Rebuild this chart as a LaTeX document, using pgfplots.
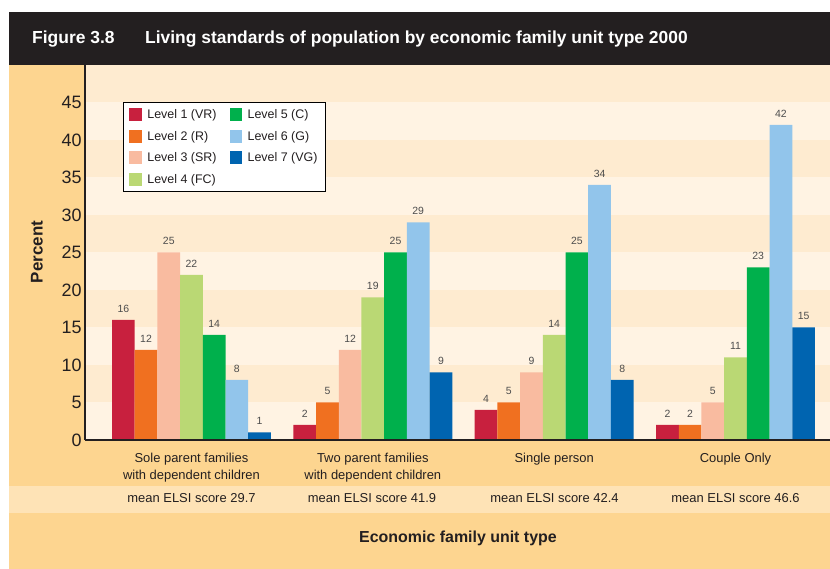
\documentclass[border=0pt]{standalone}
\usepackage{pgfplots}
\pgfplotsset{compat=1.18}
\usepackage{fontspec}
\setmainfont{Liberation Sans}
\definecolor{hdr}{HTML}{231F20}
\definecolor{org}{HTML}{FDD590}
\definecolor{stripe}{HTML}{FEE3B6}
\definecolor{bandA}{HTML}{FFF3E3}
\definecolor{bandB}{HTML}{FEEBD0}
\definecolor{txt}{HTML}{231F20}
\definecolor{lbl}{HTML}{4D4D4D}
\definecolor{cA}{HTML}{C8203E}
\definecolor{cB}{HTML}{F07020}
\definecolor{cC}{HTML}{F9BBA0}
\definecolor{cD}{HTML}{BAD874}
\definecolor{cE}{HTML}{00B04C}
\definecolor{cF}{HTML}{92C5EB}
\definecolor{cG}{HTML}{0064B0}
\begin{document}
\begin{tikzpicture}[x=1bp,y=1bp]
\useasboundingbox (0,0) rectangle (830,569);
\fill[white] (0,0) rectangle (830,569);
\fill[org] (9,0) rectangle (830,504);
\fill[hdr] (9,504) rectangle (830,557);
\fill[stripe] (9,56) rectangle (830,83);
\foreach \k in {0,2,4,6,8} {\fill[bandA] (85,{129+37.5*\k}) rectangle (830,{129+37.5*\k+37.5});}
\foreach \k in {1,3,5,7,9} {\fill[bandB] (85,{129+37.5*\k}) rectangle (830,{129+37.5*\k+37.5});}
\node[anchor=base west, text=white, font=\bfseries\fontsize{17.5}{18}\selectfont, inner sep=0] at (32,525) {Figure 3.8};
\node[anchor=base west, text=white, font=\bfseries\fontsize{17.5}{18}\selectfont, inner sep=0] at (145,525) {Living standards of population by economic family unit type 2000};
\node[rotate=90, text=txt, font=\bfseries\fontsize{17}{17}\selectfont] at (37,317) {Percent};
\node[text=txt, font=\bfseries\fontsize{16}{17}\selectfont] at (458,31) {Economic family unit type};
\begin{scope}[every node/.style={text=txt, font=\fontsize{13}{15}\selectfont}]
\node at (191.5,71) {mean ELSI score 29.7};
\node at (372,71) {mean ELSI score 41.9};
\node at (554.5,71) {mean ELSI score 42.4};
\node at (735.5,71) {mean ELSI score 46.6};
\end{scope}
\begin{axis}[
  at={(85bp,129bp)}, anchor=south west, scale only axis,
  width=745bp, height=375bp,
  xmin=-0.587, xmax=3.521, ymin=0, ymax=50,
  axis x line*=bottom, axis y line*=left,
  axis line style={draw=txt, line width=1.2bp, -},
  axis on top, clip=false,
  major tick length=0pt,
  xtick={0,1,2,3},
  xticklabels={{Sole parent families\\with dependent children},{Two parent families\\with dependent children},{Single person},{Couple Only}},
  xticklabel style={font=\fontsize{13}{16.5}\selectfont, text=txt, align=center, yshift=-10bp},
  ytick={0,5,...,45},
  yticklabel style={font=\fontsize{18}{18}\selectfont, text=txt},
  /pgf/number format/assume math mode=true,
  ybar=0pt, bar width=22.7bp,
  nodes near coords,
  every node near coord/.append style={font=\fontsize{10.5}{11}\selectfont, text=lbl, yshift=4bp},
  legend image code/.code={\fill[#1] (0bp,-6.3bp) rectangle (12.5bp,6.3bp);},
  legend columns=2, legend cell align=left,
  legend style={at={(rel axis cs:0.051,0.901)}, anchor=north west, draw=black, line width=0.8bp, fill=white,
    font=\fontsize{12.5}{14}\selectfont, text=txt, row sep=7bp, inner xsep=6bp, inner ysep=5bp,
    /tikz/every odd column/.append style={column sep=3.5bp},
    /tikz/every even column/.append style={column sep=11bp}},
]
\addlegendimage{fill=cA, draw=none}\addlegendentry{Level 1 (VR)}
\addlegendimage{fill=cE, draw=none}\addlegendentry{Level 5 (C)}
\addlegendimage{fill=cB, draw=none}\addlegendentry{Level 2 (R)}
\addlegendimage{fill=cF, draw=none}\addlegendentry{Level 6 (G)}
\addlegendimage{fill=cC, draw=none}\addlegendentry{Level 3 (SR)}
\addlegendimage{fill=cG, draw=none}\addlegendentry{Level 7 (VG)}
\addlegendimage{fill=cD, draw=none}\addlegendentry{Level 4 (FC)}
\addplot[fill=cA, draw=none, bar shift=-68.1bp] coordinates {(0,16) (1,2) (2,4) (3,2)};
\addplot[fill=cB, draw=none, bar shift=-45.4bp] coordinates {(0,12) (1,5) (2,5) (3,2)};
\addplot[fill=cC, draw=none, bar shift=-22.7bp] coordinates {(0,25) (1,12) (2,9) (3,5)};
\addplot[fill=cD, draw=none, bar shift=0bp] coordinates {(0,22) (1,19) (2,14) (3,11)};
\addplot[fill=cE, draw=none, bar shift=22.7bp] coordinates {(0,14) (1,25) (2,25) (3,23)};
\addplot[fill=cF, draw=none, bar shift=45.4bp] coordinates {(0,8) (1,29) (2,34) (3,42)};
\addplot[fill=cG, draw=none, bar shift=68.1bp] coordinates {(0,1) (1,9) (2,8) (3,15)};
\end{axis}
\end{tikzpicture}
\end{document}
